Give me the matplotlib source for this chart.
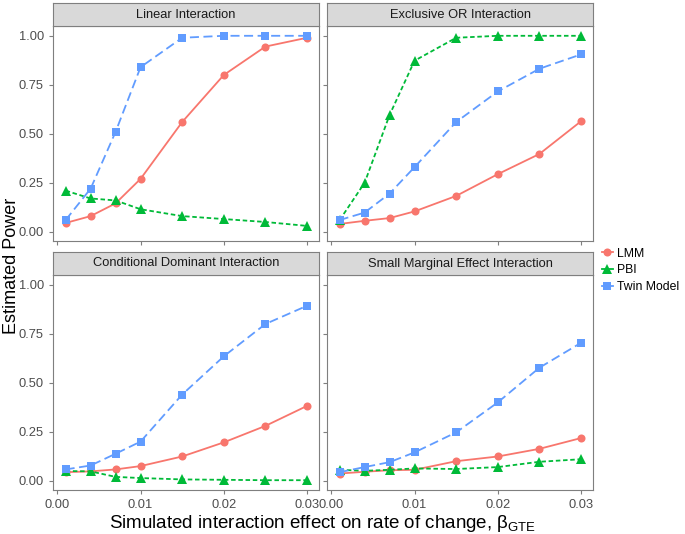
import numpy as np
import matplotlib
matplotlib.use('Agg')
import matplotlib.pyplot as plt
from matplotlib.lines import Line2D

plt.rcParams['font.family'] = ['Liberation Sans', 'DejaVu Sans']
plt.rcParams['mathtext.fontset'] = 'custom'
plt.rcParams['mathtext.rm'] = 'Liberation Sans'
plt.rcParams['mathtext.it'] = 'Liberation Sans:italic'

# effect sizes
beta = [0.001, 0.004, 0.007, 0.01, 0.015, 0.02, 0.025, 0.03]

panels = ['Linear Interaction', 'Exclusive OR Interaction',
          'Conditional Dominant Interaction', 'Small Marginal Effect Interaction']

lmm = [
    [0.045, 0.08, 0.145, 0.27, 0.56, 0.80, 0.945, 0.99],
    [0.04, 0.056, 0.07, 0.104, 0.183, 0.294, 0.397, 0.564],
    [0.044, 0.048, 0.058, 0.075, 0.124, 0.196, 0.28, 0.382],
    [0.037, 0.046, 0.054, 0.056, 0.10, 0.124, 0.163, 0.218],
]
pbi = [
    [0.21, 0.17, 0.16, 0.115, 0.08, 0.065, 0.05, 0.03],
    [0.06, 0.25, 0.596, 0.873, 0.99, 1.0, 1.0, 1.0],
    [0.05, 0.048, 0.02, 0.014, 0.007, 0.005, 0.003, 0.003],
    [0.056, 0.051, 0.056, 0.063, 0.06, 0.07, 0.097, 0.11],
]
twin = [
    [0.06, 0.22, 0.51, 0.84, 0.99, 1.0, 1.0, 1.0],
    [0.06, 0.098, 0.195, 0.33, 0.56, 0.716, 0.832, 0.905],
    [0.058, 0.078, 0.138, 0.20, 0.44, 0.635, 0.80, 0.893],
    [0.044, 0.07, 0.095, 0.145, 0.247, 0.40, 0.577, 0.704],
]

series = [('LMM', lmm, '#F8766D', 'o', '-', 5.8),
          ('PBI', pbi, '#00BA38', '^', (0, (2.5, 1.5)), 7.0),
          ('Twin Model', twin, '#619CFF', 's', (0, (5, 2.5)), 5.8)]

W, H = 685, 534
fig = plt.figure(figsize=(W / 100, H / 100), dpi=100)

lefts = [53, 327]
tops = [26, 275]
aw, ah, sh = 266, 215, 23
grey = '#4D4D4D'

for i, title in enumerate(panels):
    r, c = divmod(i, 2)
    x0, y0 = lefts[c], tops[r]
    ax = fig.add_axes([x0 / W, 1 - (y0 + ah) / H, aw / W, ah / H])
    for name, data, col, mk, ls, ms in series:
        ax.plot(beta, data[i], color=col, linestyle=ls, linewidth=1.3,
                marker=mk, markersize=ms, markeredgewidth=0)
    ax.set_xlim(-0.00052, 0.03144)
    ax.set_ylim(-0.047, 1.05)
    ax.set_xticks([0, 0.01, 0.02, 0.03])
    ax.set_yticks([0, 0.25, 0.5, 0.75, 1.0])
    for s in ax.spines.values():
        s.set_color('#7F7F7F')
        s.set_linewidth(0.8)
    ax.tick_params(colors='#7F7F7F', length=3, width=0.8, labelcolor=grey, labelsize=9.3)
    if c == 0:
        ax.set_yticklabels(['0.00', '0.25', '0.50', '0.75', '1.00'])
    else:
        ax.set_yticklabels([])
    if r == 1:
        ax.set_xticklabels(['0.00', '0.01', '0.02', '0.03'])
    else:
        ax.set_xticklabels([])
    # strip
    sax = fig.add_axes([x0 / W, 1 - y0 / H, aw / W, sh / H])
    sax.set_facecolor('#D9D9D9')
    sax.set_xticks([])
    sax.set_yticks([])
    for s in sax.spines.values():
        s.set_color('#7F7F7F')
        s.set_linewidth(0.8)
    sax.text(0.5, 0.5, title, ha='center', va='center', fontsize=9.3,
             color='#1A1A1A', transform=sax.transAxes)

fig.text(12 / W, 1 - 266 / H, 'Estimated Power', rotation=90, ha='center', va='center',
         fontsize=13, color='#000000')
fig.text(323 / W, 1 - 524 / H,
         r'Simulated interaction effect on rate of change, $\mathrm{\beta_{GTE}}$',
         ha='center', va='center', fontsize=13.5, color='#000000')

handles = [Line2D([0], [0], color=col, linestyle='-', linewidth=1.3, marker=mk,
                  markersize=ms, markeredgewidth=0)
           for name, data, col, mk, ls, ms in series]
fig.legend(handles, [s[0] for s in series], loc='upper left',
           bbox_to_anchor=(593 / W, 1 - 239 / H), frameon=False, fontsize=8.8,
           handlelength=0.9, handletextpad=0.4, labelspacing=0.38, borderpad=0.2)

fig.savefig('out.png', dpi=100, facecolor='white')
